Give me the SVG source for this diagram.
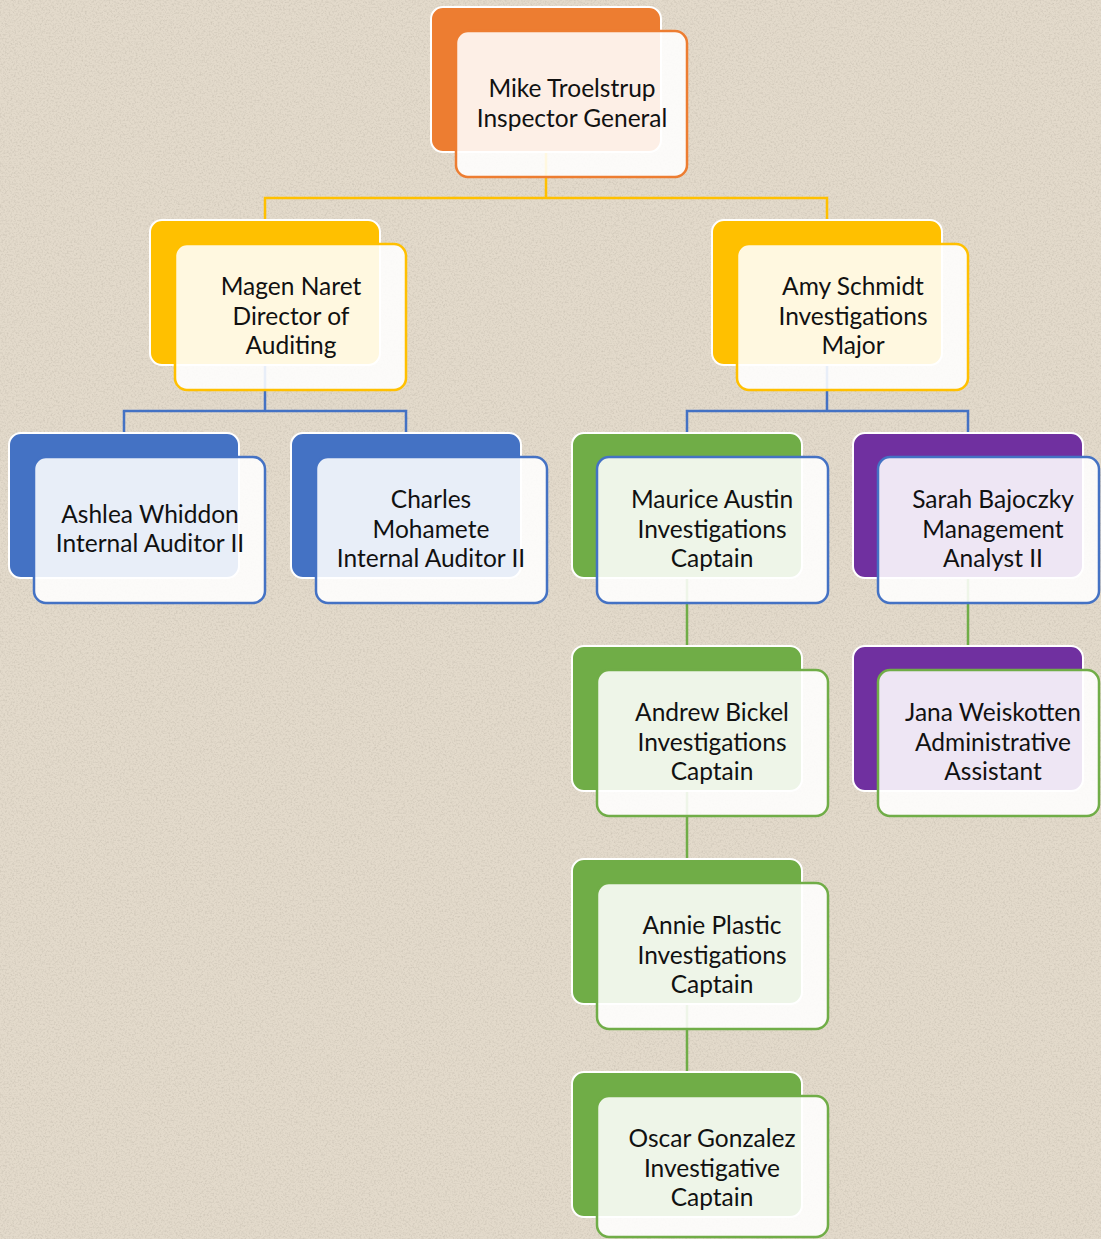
<svg xmlns="http://www.w3.org/2000/svg" width="1101" height="1239" viewBox="0 0 1101 1239">
<defs>
<filter id="grain" x="0" y="0" width="100%" height="100%">
<feTurbulence type="fractalNoise" baseFrequency="0.55" numOctaves="3" seed="7" result="t"/>
<feColorMatrix in="t" type="matrix" values="0 0 0 0 0.55  0 0 0 0 0.5  0 0 0 0 0.42  2.2 0 0 0 -0.95"/>
</filter>
<style>
.bg{fill:#E3DACB}
.back{stroke:#FFFFFF;stroke-width:2}
.front{fill:#FFFFFF;fill-opacity:0.88;stroke-width:2.5}
.f-or{fill:#ED7D31}.s-or{stroke:#ED7D31}
.f-go{fill:#FFC000}.s-go{stroke:#FFC000}
.f-bl{fill:#4472C4}.s-bl{stroke:#4472C4}
.f-gr{fill:#70AD47}.s-gr{stroke:#70AD47}
.f-pu{fill:#7030A0}.s-pu{stroke:#7030A0}
.lbl{font-family:Lato,"Open Sans","Liberation Sans",sans-serif;font-size:24.5px;fill:#111111;text-anchor:middle}
.con{fill:none;stroke-width:2.5}
</style>
</defs>
<rect class="bg" x="0" y="0" width="1101" height="1239"/>
<rect x="0" y="0" width="1101" height="1239" filter="url(#grain)" opacity="0.6"/>
<g id="connectors">
<path class="con s-go" d="M546,152 V198 M265,220 V198 H827 V220"/>
<path class="con s-bl" d="M265,365 V411 M124,433 V411 H406 V433"/>
<path class="con s-bl" d="M827,365 V411 M687,433 V411 H968 V433"/>
<path class="con s-gr" d="M687,578 V646 M687,791 V859 M687,1004 V1072 M968,578 V646"/>
</g>
<g id="mike">
<rect class="back f-or" x="431" y="7" width="230" height="145" rx="12"/>
<rect class="front s-or" x="456" y="31" width="231" height="146" rx="12"/>
<text class="lbl"><tspan x="572" y="97">Mike Troelstrup</tspan><tspan x="572" y="126.5">Inspector General</tspan></text>
</g>
<g id="magen">
<rect class="back f-go" x="150" y="220" width="230" height="145" rx="12"/>
<rect class="front s-go" x="175" y="244" width="231" height="146" rx="12"/>
<text class="lbl"><tspan x="291" y="295">Magen Naret</tspan><tspan x="291" y="324.5">Director of</tspan><tspan x="291" y="354">Auditing</tspan></text>
</g>
<g id="amy">
<rect class="back f-go" x="712" y="220" width="230" height="145" rx="12"/>
<rect class="front s-go" x="737" y="244" width="231" height="146" rx="12"/>
<text class="lbl"><tspan x="853" y="295">Amy Schmidt</tspan><tspan x="853" y="324.5">Investigations</tspan><tspan x="853" y="354">Major</tspan></text>
</g>
<g id="ashlea">
<rect class="back f-bl" x="9" y="433" width="230" height="145" rx="12"/>
<rect class="front s-bl" x="34" y="457" width="231" height="146" rx="12"/>
<text class="lbl"><tspan x="150" y="522.5">Ashlea Whiddon</tspan><tspan x="150" y="552">Internal Auditor II</tspan></text>
</g>
<g id="charles">
<rect class="back f-bl" x="291" y="433" width="230" height="145" rx="12"/>
<rect class="front s-bl" x="316" y="457" width="231" height="146" rx="12"/>
<text class="lbl"><tspan x="431" y="508">Charles</tspan><tspan x="431" y="537.5">Mohamete</tspan><tspan x="431" y="567">Internal Auditor II</tspan></text>
</g>
<g id="maurice">
<rect class="back f-gr" x="572" y="433" width="230" height="145" rx="12"/>
<rect class="front s-bl" x="597" y="457" width="231" height="146" rx="12"/>
<text class="lbl"><tspan x="712" y="508">Maurice Austin</tspan><tspan x="712" y="537.5">Investigations</tspan><tspan x="712" y="567">Captain</tspan></text>
</g>
<g id="sarah">
<rect class="back f-pu" x="853" y="433" width="230" height="145" rx="12"/>
<rect class="front s-bl" x="878" y="457" width="221" height="146" rx="12"/>
<text class="lbl"><tspan x="993" y="508">Sarah Bajoczky</tspan><tspan x="993" y="537.5">Management</tspan><tspan x="993" y="567">Analyst II</tspan></text>
</g>
<g id="andrew">
<rect class="back f-gr" x="572" y="646" width="230" height="145" rx="12"/>
<rect class="front s-gr" x="597" y="670" width="231" height="146" rx="12"/>
<text class="lbl"><tspan x="712" y="721">Andrew Bickel</tspan><tspan x="712" y="750.5">Investigations</tspan><tspan x="712" y="780">Captain</tspan></text>
</g>
<g id="jana">
<rect class="back f-pu" x="853" y="646" width="230" height="145" rx="12"/>
<rect class="front s-gr" x="878" y="670" width="221" height="146" rx="12"/>
<text class="lbl"><tspan x="993" y="721">Jana Weiskotten</tspan><tspan x="993" y="750.5">Administrative</tspan><tspan x="993" y="780">Assistant</tspan></text>
</g>
<g id="annie">
<rect class="back f-gr" x="572" y="859" width="230" height="145" rx="12"/>
<rect class="front s-gr" x="597" y="883" width="231" height="146" rx="12"/>
<text class="lbl"><tspan x="712" y="934">Annie Plastic</tspan><tspan x="712" y="963.5">Investigations</tspan><tspan x="712" y="993">Captain</tspan></text>
</g>
<g id="oscar">
<rect class="back f-gr" x="572" y="1072" width="230" height="145" rx="12"/>
<rect class="front s-gr" x="597" y="1096" width="231" height="141" rx="12"/>
<text class="lbl"><tspan x="712" y="1147">Oscar Gonzalez</tspan><tspan x="712" y="1176.5">Investigative</tspan><tspan x="712" y="1206">Captain</tspan></text>
</g>
</svg>
